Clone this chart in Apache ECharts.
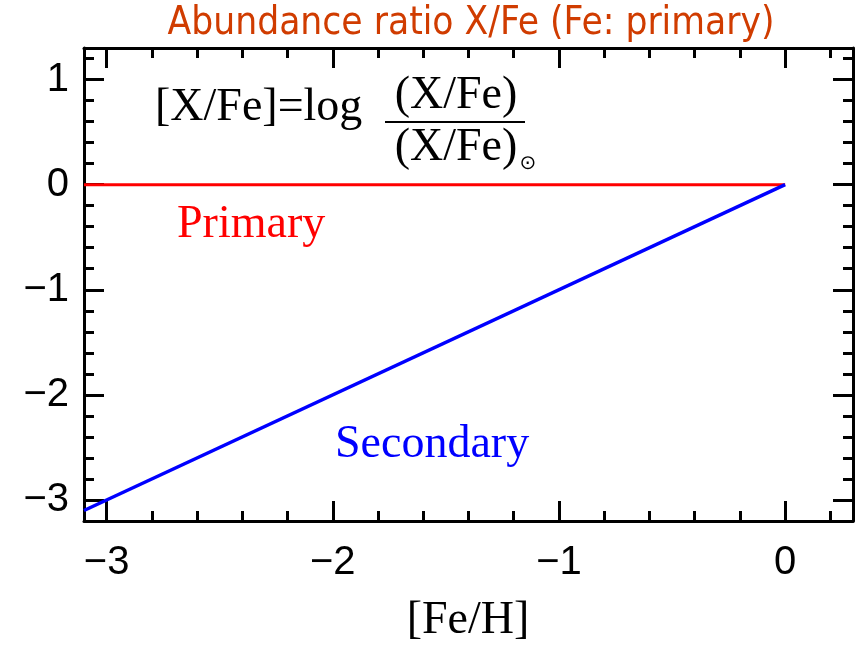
<!DOCTYPE html>
<html><head><meta charset="utf-8">
<script src="https://cdn.jsdelivr.net/npm/echarts@6/dist/echarts.min.js"></script>
<style>html,body{margin:0;padding:0;background:#fff}#c{width:862px;height:645px}</style>
</head><body><div id="c"></div>
<script>
// Data
const feH = [-3.1, 0];
const primaryXFe = [0, 0];
const secondaryXFe = [-3.1, 0];
const xMajorTicks = [-3, -2, -1, 0];
const xMinorTicks = [-3, -2.8, -2.6, -2.4, -2.2, -2, -1.8, -1.6, -1.4, -1.2, -1, -0.8, -0.6, -0.4, -0.2, 0, 0.2];
const yMajorTicks = [-3, -2, -1, 0, 1];
const yMinorTicks = [-3, -2.8, -2.6, -2.4, -2.2, -2, -1.8, -1.6, -1.4, -1.2, -1, -0.8, -0.6, -0.4, -0.2, 0, 0.2, 0.4, 0.6, 0.8, 1, 1.2];
const xRange = [-3.1, 0.3];
const yRange = [-3.2, 1.3];

const fmt = v => (v < 0 ? '\u2212' + Math.abs(v) : String(v));
const labelStyle = { color: '#000', fontFamily: 'Liberation Sans', fontSize: 40 };

function axis(pos, range, ticks, len, showLine, showLabel, margin) {
  return {
    type: 'value', position: pos, min: range[0], max: range[1],
    axisLine: { show: showLine, onZero: false, lineStyle: { color: '#000', width: 3 } },
    axisTick: { show: true, inside: true, length: len, customValues: ticks, lineStyle: { color: '#000', width: 3 } },
    axisLabel: Object.assign({ show: showLabel, customValues: ticks, formatter: fmt, margin: margin }, labelStyle),
    splitLine: { show: false }
  };
}

const chart = echarts.init(document.getElementById('c'));
chart.setOption({
  animation: false,
  grid: { left: 84, right: 9, top: 48, bottom: 124 },
  xAxis: [
    axis('bottom', xRange, xMajorTicks, 20, true, true, 22),
    axis('bottom', xRange, xMinorTicks, 10, false, false, 0),
    axis('top', xRange, xMajorTicks, 20, true, false, 0),
    axis('top', xRange, xMinorTicks, 10, false, false, 0)
  ],
  yAxis: [
    axis('left', yRange, yMajorTicks, 20, true, true, 15),
    axis('left', yRange, yMinorTicks, 10, false, false, 0),
    axis('right', yRange, yMajorTicks, 20, true, false, 0),
    axis('right', yRange, yMinorTicks, 10, false, false, 0)
  ],
  series: [
    { type: 'line', name: 'Primary', symbol: 'none', xAxisIndex: 0, yAxisIndex: 0,
      lineStyle: { color: '#ff0000', width: 3 },
      data: feH.map((x, i) => [x, primaryXFe[i]]) },
    { type: 'line', name: 'Secondary', symbol: 'none', xAxisIndex: 0, yAxisIndex: 0,
      lineStyle: { color: '#0000ff', width: 3.5 },
      data: feH.map((x, i) => [x, secondaryXFe[i]]) }
  ],
  graphic: [
    { type: 'text', x: 471, y: 24, style: { text: 'Abundance ratio X/Fe (Fe: primary)', fill: '#d03c00',
      font: '38.5px "Comic Sans MS", "DejaVu Sans Condensed", "Liberation Sans Narrow", sans-serif', align: 'center', verticalAlign: 'middle' } },
    { type: 'text', x: 155, y: 108, style: { text: '[X/Fe]=log', fill: '#000', font: '46px "Liberation Serif"', align: 'left', verticalAlign: 'middle' } },
    { type: 'text', x: 456, y: 96, style: { text: '(X/Fe)', fill: '#000', font: '46px "Liberation Serif"', align: 'center', verticalAlign: 'middle' } },
    { type: 'line', shape: { x1: 385, y1: 122, x2: 525, y2: 122 }, style: { stroke: '#000', lineWidth: 2 } },
    { type: 'text', x: 456, y: 148, style: { text: '(X/Fe)', fill: '#000', font: '46px "Liberation Serif"', align: 'center', verticalAlign: 'middle' } },
    { type: 'text', x: 528, y: 164, style: { text: '\u2299', fill: '#000', font: '20px "DejaVu Sans"', align: 'center', verticalAlign: 'middle' } },
    { type: 'text', x: 177, y: 225, style: { text: 'Primary', fill: '#ff0000', font: '46px "Liberation Serif"', align: 'left', verticalAlign: 'middle' } },
    { type: 'text', x: 335, y: 445, style: { text: 'Secondary', fill: '#0000ff', font: '46px "Liberation Serif"', align: 'left', verticalAlign: 'middle' } },
    { type: 'text', x: 468, y: 621, style: { text: '[Fe/H]', fill: '#000', font: '46px "Liberation Serif"', align: 'center', verticalAlign: 'middle' } }
  ]
});
</script>
</body></html>
